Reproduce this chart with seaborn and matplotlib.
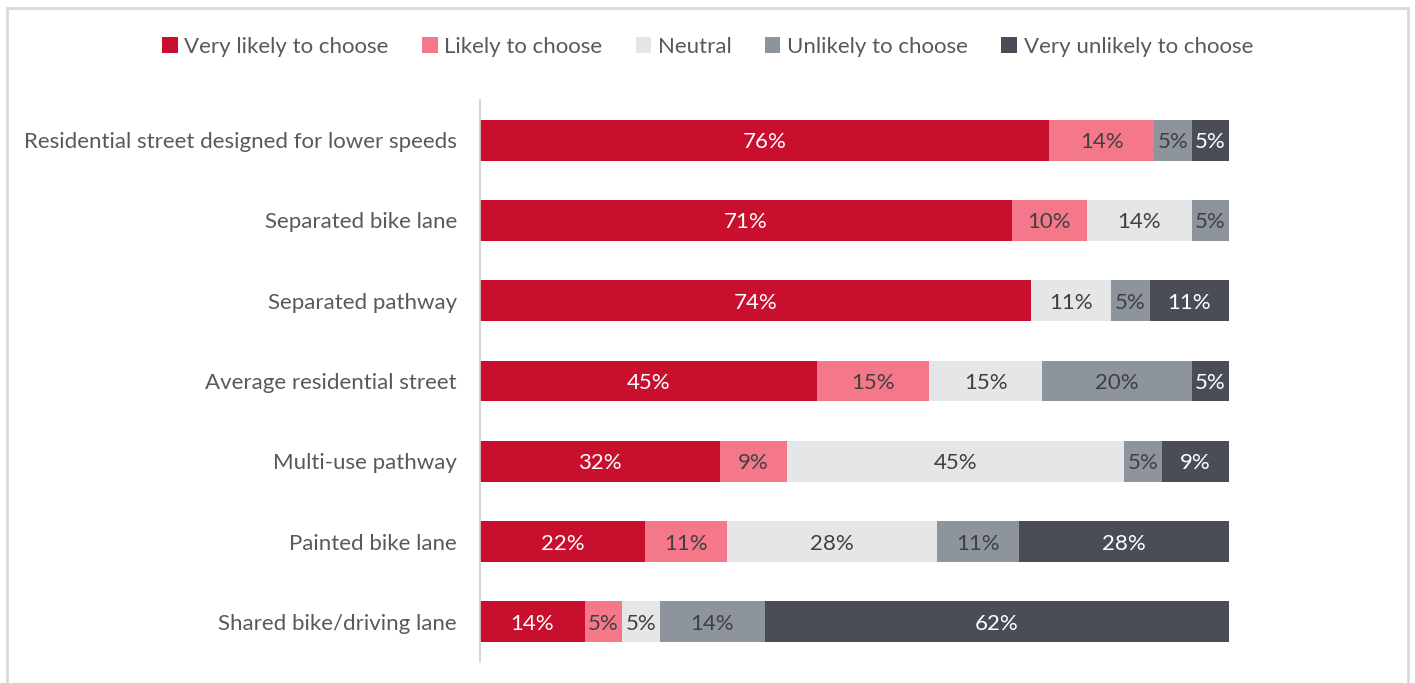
import matplotlib
matplotlib.use("Agg")
import matplotlib.pyplot as plt
from matplotlib.patches import Patch, Rectangle
import numpy as np
import pandas as pd
import seaborn as sns

# Survey: how likely respondents are to choose each facility type (% of respondents)
categories = [
    "Residential street designed for lower speeds",
    "Separated bike lane",
    "Separated pathway",
    "Average residential street",
    "Multi-use pathway",
    "Painted bike lane",
    "Shared bike/driving lane",
]
series_names = [
    "Very likely to choose",
    "Likely to choose",
    "Neutral",
    "Unlikely to choose",
    "Very unlikely to choose",
]
very_likely = [76, 71, 73.6, 45, 32, 22, 14]
likely = [14, 10, 0, 15, 9, 11, 5]
neutral = [0, 14, 10.6, 15, 45, 28, 5]
unlikely = [5, 5, 5.2, 20, 5, 11, 14]
very_unlikely = [5, 0, 10.6, 5, 9, 28, 62]

colors = ["#C8102E", "#F4788A", "#E5E6E8", "#8E949B", "#4A4D55"]
label_colors = ["white", "#404040", "#404040", "#404040", "white"]

sns.set_theme(style="white")
plt.rcParams["font.family"] = ["Lato", "DejaVu Sans"]

values = np.array([very_likely, likely, neutral, unlikely, very_unlikely])
cum = np.cumsum(values, axis=0)

fig = plt.figure(figsize=(14.15, 6.83), dpi=100)
ax = fig.add_axes([480 / 1415, 1 - 662 / 683, (1229 - 480) / 1415, (662 - 100) / 683])

# Stack by overdrawing cumulative totals, widest first
for i in range(len(series_names) - 1, -1, -1):
    df = pd.DataFrame({"category": categories, "value": cum[i]})
    sns.barplot(data=df, x="value", y="category", orient="h", color=colors[i],
                saturation=1, width=0.51, ax=ax, order=categories,
                linewidth=0, edgecolor="none")

for i in range(len(series_names)):
    for j in range(len(categories)):
        v = values[i, j]
        if v <= 0:
            continue
        start = cum[i, j] - v
        ax.text(start + v / 2, j, f"{v:.0f}%", ha="center", va="center_baseline",
                fontsize=16, color=label_colors[i])

ax.set_xlim(0, 100)
ax.set_ylim(len(categories) - 0.5, -0.5)
ax.set_xlabel("")
ax.set_ylabel("")
ax.set_xticks([])
ax.tick_params(axis="y", length=0, pad=16.5, labelsize=16, labelcolor="#595959")
for s in ["top", "right", "bottom"]:
    ax.spines[s].set_visible(False)
ax.spines["left"].set_color("#D0D0D0")
ax.spines["left"].set_linewidth(1.2)

handles = [Patch(facecolor=c, edgecolor="none") for c in colors]
fig.legend(handles, series_names, loc="center", bbox_to_anchor=(0.5, 1 - 47 / 683),
           ncol=5, frameon=False, fontsize=16, labelcolor="#595959",
           handlelength=0.7, handleheight=0.7, handletextpad=0.3,
           columnspacing=1.5)

# Chart frame
fig.patches.append(Rectangle((7 / 1415, -0.05), (1408 - 7) / 1415, 1.05 - 8 / 683,
                             transform=fig.transFigure, fill=False,
                             edgecolor="#D9D9D9", linewidth=2))

fig.savefig("out.png", dpi=100)
